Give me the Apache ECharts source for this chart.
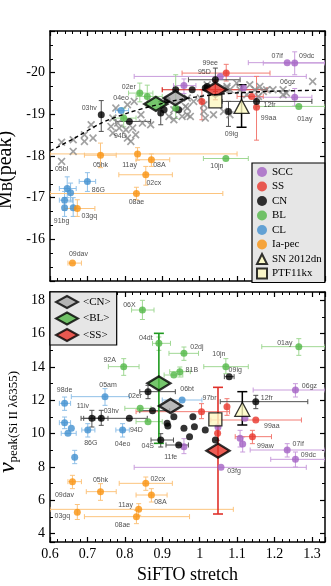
<!DOCTYPE html>
<html>
<head>
<meta charset="utf-8">
<script src="https://cdn.jsdelivr.net/npm/echarts@6/dist/echarts.min.js"></script>
<style>
  html, body { margin: 0; padding: 0; background: #fff; }
  #chart { width: 331px; height: 586px; }
</style>
</head>
<body>
<div id="chart"></div>
<script>
// rows: [stretch, value, xLo, xHi, yLo, yHi, name]
// ---- top panel: M_B(peak) ----
var topSCC = [
  [1.234, -20.24, 1.13, 1.335, null, null, '07if'],
  [1.254, -20.23, 1.17, 1.335, -20.50, -19.95, '09dc'],
  [1.254, -19.41, 1.15, 1.30, -19.62, -19.20, '06gz'],
  [1.055, -19.91, 0.825, 1.285, null, null, ''],
  [0.958, -19.69, 0.93, 0.99, -19.85, -19.50, ''],
  [1.117, -19.63, null, null, null, null, '']
];
var topSS = [
  [1.071, -19.99, 0.953, 1.188, -20.20, -19.80, '99ee'],
  [1.006, -19.31, null, null, -19.59, -18.87, ''],
  [1.152, -19.17, null, null, -19.91, -18.38, '99aa'],
  [1.139, -19.43, 1.10, 1.17, null, null, '']
];
var topCN = [
  [0.737, -18.99, null, null, -19.33, -18.59, '03hv'],
  [0.812, -18.83, 0.776, 0.869, null, null, '94D'],
  [0.896, -19.03, null, null, -19.30, -18.75, ''],
  [0.944, -19.11, null, null, null, null, ''],
  [0.905, -19.11, null, null, null, null, ''],
  [0.913, -19.35, null, null, null, null, ''],
  [0.936, -19.59, null, null, null, null, ''],
  [0.980, -19.59, null, null, null, null, ''],
  [1.020, -19.67, null, null, null, null, ''],
  [1.042, -19.83, 0.97, 1.108, -20.11, -19.55, '95D'],
  [1.015, -19.63, null, null, null, null, ''],
  [1.077, -19.07, null, null, -19.31, -18.71, '09ig'],
  [1.152, -19.31, 1.06, 1.30, null, null, '12fr']
];
var topBL = [
  [0.840, -19.51, 0.81, 0.875, -19.75, -19.30, '02er'],
  [0.860, -19.43, 0.83, 0.90, -19.70, -19.20, ''],
  [0.797, -18.91, 0.77, 0.83, -19.15, -18.70, ''],
  [0.936, -19.15, null, null, -19.95, -18.90, ''],
  [1.070, -17.94, 1.01, 1.13, null, null, '10jn'],
  [1.265, -19.19, 1.15, 1.335, null, null, '01ay']
];
var topCL = [
  [0.790, -19.09, 0.775, 0.81, null, null, '04eo'],
  [0.700, -17.39, 0.678, 0.722, -17.60, -17.15, '86G'],
  [0.646, -17.22, 0.625, 0.67, -17.50, -17.00, ''],
  [0.655, -17.12, null, null, -17.35, -16.90, ''],
  [0.639, -16.94, 0.625, 0.66, -17.15, -16.70, ''],
  [0.639, -16.76, null, null, -17.00, -16.55, '91bg'],
  [0.662, -16.76, null, null, -17.00, -16.55, '']
];
var topPec = [
  [0.735, -18.02, 0.692, 0.777, -18.31, -17.72, '05hk'],
  [0.834, -18.05, 0.60, 1.10, -18.20, -17.90, '11ay'],
  [0.871, -17.91, 0.83, 0.92, -18.05, -17.75, '08A'],
  [0.856, -17.55, 0.784, 0.927, -17.75, -17.30, '02cx'],
  [0.831, -17.10, 0.60, 1.062, -17.25, -16.95, '08ae'],
  [0.673, -16.74, 0.638, 0.72, -16.95, -16.55, '03gq'],
  [0.660, -15.43, 0.648, 0.684, null, null, '09dav']
];
var top12dn = [[1.112, -19.19, null, null, -19.71, -18.69, '']];
var top11kx = [[1.042, -19.31, null, null, null, null, '']];
var topMeanCN = [[0.935, -19.39, null, null, null, null, '']];
var topMeanBL = [[0.883, -19.25, null, null, null, null, '']];
var topMeanSS = [[1.042, -19.59, 0.90, 1.18, -19.80, -19.35, '']];
var topCross = [
  [0.631, -18.33], [0.662, -18.11], [0.710, -18.75], [0.692, -18.51], [0.715, -18.43],
  [0.763, -18.71], [0.768, -18.55], [0.785, -18.67], [0.803, -18.63], [0.821, -18.67],
  [0.829, -18.51], [0.807, -18.43], [0.776, -19.15], [0.768, -18.91], [0.781, -18.79],
  [0.847, -18.79], [0.869, -18.75], [0.843, -18.99], [0.918, -18.95], [0.953, -18.95],
  [0.931, -19.11], [0.825, -19.31], [0.807, -19.23], [0.967, -19.15], [0.662, -18.39],
  [0.631, -17.87, '05bl'], [0.692, -18.35], [0.816, -18.35], [0.967, -18.99], [1.015, -18.91],
  [1.037, -18.99], [1.064, -19.07], [1.081, -18.99], [1.011, -19.23], [0.984, -19.31],
  [1.108, -19.59], [1.126, -19.47], [1.148, -19.59], [1.170, -19.55], [1.196, -19.59],
  [1.223, -19.59], [1.157, -19.43], [1.223, -19.47], [1.302, -19.79], [1.232, -19.51],
  [1.081, -19.59], [1.073, -19.67], [1.020, -19.71], [1.002, -19.39], [0.967, -19.39],
  [1.179, -19.59], [1.161, -19.67], [1.134, -19.71], [1.099, -19.75], [1.073, -19.63],
  [0.962, -19.19], [0.931, -18.87], [0.975, -18.95], [1.011, -19.07]
];
var fitStretch = [0.60, 0.666, 0.737, 0.807, 0.869, 0.95, 1.05, 1.18, 1.335];
var fitMag = [-18.12, -18.43, -18.79, -19.03, -19.19, -19.36, -19.48, -19.55, -19.58];

// ---- bottom panel: v_peak(Si II 6355) ----
var botSCC = [
  [1.256, 12.62, 1.143, 1.335, 12.2, 13.0, '06gz'],
  [1.234, 9.02, 1.135, 1.335, 8.6, 9.4, '07if'],
  [1.256, 8.46, 1.19, 1.335, 8.0, 8.9, '09dc'],
  [1.057, 7.98, 0.825, 1.285, null, null, '03fg'],
  [0.958, 9.22, null, null, 8.8, 9.7, ''],
  [1.121, 10.92, null, null, null, null, ''],
  [1.108, 9.72, null, null, 9.2, 10.2, ''],
  [1.115, 9.38, null, null, 8.9, 9.8, ''],
  [1.049, 10.40, null, null, null, null, '']
];
var botSS = [
  [1.005, 11.32, 0.83, 1.08, 10.9, 11.8, '97br'],
  [1.073, 11.62, null, null, 11.1, 12.1, ''],
  [1.048, 10.02, null, null, 9.6, 10.4, ''],
  [1.150, 10.82, 1.03, 1.272, null, null, '99aa'],
  [1.141, 9.82, 1.095, 1.192, 9.4, 10.2, '99aw']
];
var botCN = [
  [0.712, 10.92, 0.683, 0.735, 10.4, 11.4, '11iv'],
  [0.737, 10.92, 0.72, 0.755, 10.5, 11.4, '03hv'],
  [0.812, 10.92, 0.69, 0.86, null, null, '94D'],
  [0.862, 12.52, 0.84, 0.935, 12.1, 12.9, ''],
  [0.874, 11.38, 0.84, 0.92, null, null, ''],
  [0.896, 9.62, 0.87, 0.93, 9.2, 10.0, '04S'],
  [0.915, 10.46, null, null, null, null, ''],
  [0.931, 11.02, null, null, null, null, ''],
  [0.913, 10.62, null, null, null, null, ''],
  [0.944, 9.32, 0.91, 0.97, null, null, '11fe'],
  [0.958, 10.32, null, null, null, null, ''],
  [0.973, 9.82, null, null, null, null, ''],
  [0.982, 11.02, null, null, null, null, ''],
  [0.986, 10.42, null, null, null, null, ''],
  [1.015, 10.22, null, null, null, null, ''],
  [1.042, 9.62, null, null, null, null, ''],
  [1.079, 13.42, 1.066, 1.092, null, null, '09ig'],
  [1.150, 11.92, 1.055, 1.289, 11.5, 12.3, '12fr']
];
var botBL = [
  [0.847, 17.42, 0.818, 0.878, 16.85, 18.0, '06X'],
  [0.891, 15.42, 0.874, 0.922, 15.0, 15.8, '04dt'],
  [0.958, 14.82, 0.918, 0.997, 14.4, 15.2, '02dj'],
  [0.797, 14.02, 0.756, 0.838, 13.5, 14.5, '92A'],
  [1.070, 14.02, 1.011, 1.130, 13.6, 14.5, '10jn'],
  [1.265, 15.22, 1.166, 1.335, 14.7, 15.7, '01ay'],
  [0.947, 13.72, 0.92, 0.975, 13.4, 14.0, '81B'],
  [0.931, 13.52, 0.905, 0.955, null, null, ''],
  [0.841, 11.52, 0.80, 0.87, null, null, '02er'],
  [0.862, 10.72, 0.83, 0.90, null, null, '']
];
var botCL = [
  [0.747, 12.22, 0.657, 0.812, 11.7, 12.7, '05am'],
  [0.953, 12.02, 0.90, 1.006, null, null, '06bt'],
  [0.794, 10.22, 0.776, 0.812, 9.8, 10.6, '04eo'],
  [0.701, 10.22, 0.685, 0.72, 9.8, 10.6, '86G'],
  [0.639, 11.82, 0.625, 0.655, 11.4, 12.2, '98de'],
  [0.639, 10.66, 0.625, 0.655, 10.3, 11.0, ''],
  [0.657, 10.32, null, null, null, null, ''],
  [0.648, 10.02, 0.63, 0.67, null, null, ''],
  [0.666, 8.58, null, null, 8.2, 9.0, '']
];
var botPec = [
  [0.660, 7.12, 0.648, 0.684, 6.7, 7.5, '09dav'],
  [0.735, 6.52, 0.697, 0.777, 6.0, 7.0, '05hk'],
  [0.856, 7.02, 0.785, 0.927, 6.6, 7.4, '02cx'],
  [0.871, 6.32, 0.83, 0.913, 5.9, 6.7, '08A'],
  [0.837, 5.46, 0.60, 1.09, 5.1, 5.8, '11ay'],
  [0.831, 5.02, 0.692, 0.973, 4.6, 5.4, '08ae'],
  [0.673, 5.28, null, null, 4.85, 5.75, '03gq']
];
var bot12dn = [[1.114, 11.46, null, null, 10.52, 12.52, '']];
var bot11kx = [[1.042, 10.86, null, null, null, null, '']];
var botMeanCN = [[0.922, 11.66, null, null, null, null, '']];
var botMeanBL = [[0.891, 13.02, null, null, 9.42, 16.02, '']];
var botMeanSS = [[1.049, 8.98, null, null, 5.18, 12.78, '']];

var xTicks = [0.6, 0.7, 0.8, 0.9, 1, 1.1, 1.2, 1.3];
var topTicks = [-20, -19, -18, -17, -16];
var botTicks = [4, 6, 8, 10, 12, 14, 16, 18];

// label placement (pixel offsets from the point)
var topLabelPos = {
  '99ee': [-16, -10], '95D': [-11, -8], '07if': [-10, -7], '09dc': [12, -7], '06gz': [-7, -15],
  '12fr': [13, 4], '99aa': [12, 11], '01ay': [6, 13], '09ig': [3, 23], '10jn': [-9, 8],
  '03hv': [-12, -7], '04eo': [0, -13], '02er': [-11, -6], '94D': [-9, 15], '05bl': [0, 8],
  '05hk': [0, 10], '11ay': [-8, 11], '08A': [8, 5], '02cx': [8, 8], '08ae': [0, 9],
  '86G': [11, 9], '03gq': [12, 8], '91bg': [-3, 13], '09dav': [6, -9]
};
var botLabelPos = {
  '06X': [-13, -5], '04dt': [-13, -5], '02dj': [13, -6], '92A': [-14, -7], '10jn': [-7, -13],
  '01ay': [-14, -4], '81B': [12, -2], '09ig': [6, -7], '05am': [3, -12], '98de': [0, -13],
  '06bt': [5, -11], '97br': [8, -14], '02er': [-5, -12], '12fr': [11, -4], '11iv': [-9, -12],
  '03hv': [10, -7], '94D': [7, 12], '86G': [3, 13], '04eo': [0, 14], '99aa': [16, 6],
  '04S': [-13, 6], '11fe': [-8, 12], '99aw': [13, 9], '07if': [11, -6], '09dc': [13, -4],
  '06gz': [14, -4], '03fg': [13, 4], '09dav': [-8, 13], '05hk': [0, -12], '02cx': [12, -4],
  '08A': [9, 7], '11ay': [-13, -4], '03gq': [-15, 4], '08ae': [-14, 8]
};

var colors = {
  SCC: '#a463c4', SS: '#e8342b', CN: '#000000', BL: '#52b847', CL: '#4190cf', pec: '#f9920f'
};
var errColors = {
  SCC: '#c99ddc', SS: '#f27c74', CN: '#505050', BL: '#a0d894', CL: '#90c0e8', pec: '#fcc47e'
};
var serif = 'Liberation Serif, DejaVu Serif, serif';
var crossPath = 'path://M1.5,0 L5,3.5 L8.5,0 L10,1.5 L6.5,5 L10,8.5 L8.5,10 L5,6.5 L1.5,10 L0,8.5 L3.5,5 L0,1.5 Z';

function pointData(rows, pos) {
  return rows.map(function (r) {
    var item = { value: [r[0], r[1]], name: r[6] || '' };
    var off = r[6] ? pos[r[6]] : null;
    if (off) {
      item.label = {
        show: true, position: 'inside', offset: off, formatter: r[6],
        color: '#1a1a1a', fontSize: 7, fontFamily: 'Liberation Sans, Arial, sans-serif',
        textBorderWidth: 0
      };
    }
    return item;
  });
}

function errorSeries(rows, color, panel, width) {
  return {
    type: 'custom',
    xAxisIndex: panel * 2, yAxisIndex: panel * 2,
    silent: true,
    clip: true,
    data: rows.map(function (r) {
      return r.slice(0, 6).map(function (v) { return v == null ? '-' : v; });
    }),
    renderItem: function (params, api) {
      var x = api.value(0), y = api.value(1);
      var x1 = api.value(2), x2 = api.value(3), y1 = api.value(4), y2 = api.value(5);
      var style = { stroke: color, lineWidth: width || 1 };
      var cap = 2.5;
      var kids = [];
      if (!isNaN(x1) && !isNaN(x2)) {
        var a = api.coord([x1, y]), b = api.coord([x2, y]);
        kids.push({ type: 'line', shape: { x1: a[0], y1: a[1], x2: b[0], y2: b[1] }, style: style });
        kids.push({ type: 'line', shape: { x1: a[0], y1: a[1] - cap, x2: a[0], y2: a[1] + cap }, style: style });
        kids.push({ type: 'line', shape: { x1: b[0], y1: b[1] - cap, x2: b[0], y2: b[1] + cap }, style: style });
      }
      if (!isNaN(y1) && !isNaN(y2)) {
        var c = api.coord([x, y1]), d = api.coord([x, y2]);
        var cw = width > 1.2 ? 5 : cap;
        kids.push({ type: 'line', shape: { x1: c[0], y1: c[1], x2: d[0], y2: d[1] }, style: style });
        kids.push({ type: 'line', shape: { x1: c[0] - cw, y1: c[1], x2: c[0] + cw, y2: c[1] }, style: style });
        kids.push({ type: 'line', shape: { x1: d[0] - cw, y1: d[1], x2: d[0] + cw, y2: d[1] }, style: style });
      }
      return { type: 'group', children: kids };
    }
  };
}

function pointSeries(name, rows, pos, panel, style) {
  return {
    name: name,
    type: 'scatter',
    xAxisIndex: panel * 2, yAxisIndex: panel * 2,
    symbol: style.symbol || 'circle',
    symbolSize: style.size || 7,
    itemStyle: style.itemStyle,
    data: pointData(rows, pos)
  };
}

function xAxisFor(grid, pos, labels) {
  return {
    type: 'value', gridIndex: grid, position: pos,
    min: 0.6, max: 1.335, interval: 0.1,
    axisLine: { show: true, onZero: false, lineStyle: { color: '#000', width: 1.5 } },
    axisTick: { show: true, inside: true, length: 5, lineStyle: { color: '#000', width: 1.2 } },
    minorTick: { show: true, splitNumber: 5, length: 3, lineStyle: { color: '#000', width: 1 } },
    splitLine: { show: false },
    axisLabel: {
      show: labels, color: '#000', fontFamily: serif, fontSize: 14, margin: 5,
      formatter: function (v) {
        var hit = xTicks.filter(function (t) { return Math.abs(t - v) < 1e-6; });
        return hit.length ? String(hit[0]) : '';
      }
    }
  };
}

function yAxisFor(grid, pos, labels, conf) {
  return {
    type: 'value', gridIndex: grid, position: pos,
    min: conf.min, max: conf.max, interval: conf.interval, splitNumber: conf.splitNumber,
    inverse: !!conf.inverse,
    axisLine: { show: true, onZero: false, lineStyle: { color: '#000', width: 1.5 } },
    axisTick: { show: true, inside: true, length: 5, lineStyle: { color: '#000', width: 1.2 } },
    minorTick: { show: true, splitNumber: conf.minor, length: 3, lineStyle: { color: '#000', width: 1 } },
    splitLine: { show: false },
    axisLabel: {
      show: labels, color: '#000', fontFamily: serif, fontSize: 14, margin: 5,
      formatter: function (v) {
        var hit = conf.ticks.filter(function (t) { return Math.abs(t - v) < 1e-6; });
        return hit.length ? String(hit[0]) : '';
      }
    }
  };
}

var topConf = { min: -21, max: -15, interval: 1, inverse: true, minor: 3, ticks: topTicks };
var botConf = { min: 3.5, max: 18.5, splitNumber: 7, minor: 2, ticks: botTicks };

var yTop = yAxisFor(0, 'left', true, topConf);
yTop.name = '{m|M}{s|B}{m|(peak)}';
yTop.nameLocation = 'middle';
yTop.nameGap = 27;
yTop.nameTextStyle = {
  padding: [0, 28, 0, 0],
  rich: {
    m: { fontFamily: serif, fontSize: 20, color: '#000', lineHeight: 22, verticalAlign: 'bottom' },
    s: { fontFamily: serif, fontSize: 14, color: '#000', lineHeight: 8, verticalAlign: 'bottom' }
  }
};
var yBot = yAxisFor(1, 'left', true, botConf);
yBot.name = '{v|\u03bd}{s|peak}{n|(Si II \u03bb6355)}';
yBot.nameLocation = 'middle';
yBot.nameGap = 28;
yBot.nameTextStyle = {
  padding: [0, 10, 0, 0],
  rich: {
    v: { fontFamily: serif, fontStyle: 'italic', fontSize: 24, color: '#000', lineHeight: 22, verticalAlign: 'bottom' },
    s: { fontFamily: serif, fontSize: 13, color: '#000', lineHeight: 8, verticalAlign: 'bottom' },
    n: { fontFamily: serif, fontSize: 13, color: '#000', lineHeight: 8, verticalAlign: 'bottom' }
  }
};
var xBot = xAxisFor(1, 'bottom', true);
xBot.name = 'SiFTO stretch';
xBot.nameLocation = 'middle';
xBot.nameGap = 24;
xBot.nameTextStyle = { fontFamily: serif, fontSize: 18, color: '#000' };

var classes = [
  ['SCC', 'SCC', topSCC, botSCC],
  ['SS', 'SS', topSS, botSS],
  ['CN', 'CN', topCN, botCN],
  ['BL', 'BL', topBL, botBL],
  ['CL', 'CL', topCL, botCL],
  ['Ia-pec', 'pec', topPec, botPec]
];

var series = [];
classes.forEach(function (c) {
  series.push(errorSeries(c[2], errColors[c[1]], 0, 1));
  series.push(errorSeries(c[3], errColors[c[1]], 1, 1));
});
series.push(errorSeries(top12dn, '#000', 0, 1.5));
series.push(errorSeries(bot12dn, '#000', 1, 1.5));

series.push({
  type: 'scatter', xAxisIndex: 0, yAxisIndex: 0,
  symbol: crossPath, symbolSize: 8,
  itemStyle: { color: '#8a8a8a' },
  data: topCross.map(function (r) {
    var item = { value: [r[0], r[1]] };
    if (r[2]) {
      item.label = {
        show: true, position: 'inside', offset: topLabelPos[r[2]], formatter: r[2],
        color: '#1a1a1a', fontSize: 7, fontFamily: 'Liberation Sans, Arial, sans-serif', textBorderWidth: 0
      };
    }
    return item;
  })
});
series.push({
  type: 'line', xAxisIndex: 0, yAxisIndex: 0,
  smooth: 0.3, symbol: 'none', silent: true,
  lineStyle: { color: '#000', width: 1.4, type: [4, 3] },
  data: fitStretch.map(function (s, i) { return [s, fitMag[i]]; })
});

classes.forEach(function (c) {
  series.push(pointSeries(c[0], c[2], topLabelPos, 0, { itemStyle: { color: colors[c[1]] } }));
  series.push(pointSeries(c[0], c[3], botLabelPos, 1, { itemStyle: { color: colors[c[1]] } }));
});

series.push(errorSeries(topMeanSS, '#d8261e', 0, 1.2));
series.push(errorSeries(botMeanBL, '#1f9a1f', 1, 1.6));
series.push(errorSeries(botMeanSS, '#e0302a', 1, 1.6));

var means = [
  ['<CN>', '#a8a8a8', topMeanCN, botMeanCN],
  ['<BL>', '#52b847', topMeanBL, botMeanBL],
  ['<SS>', '#e8342b', topMeanSS, botMeanSS]
];
means.forEach(function (m) {
  [0, 1].forEach(function (p) {
    series.push(pointSeries(m[0], p ? m[3] : m[2], {}, p, {
      symbol: 'diamond', size: [23, 14],
      itemStyle: { color: m[1], borderColor: '#000', borderWidth: 2.5 }
    }));
  });
});

[0, 1].forEach(function (p) {
  series.push(pointSeries('SN 2012dn', p ? bot12dn : top12dn, {}, p, {
    symbol: 'triangle', size: [15, 14],
    itemStyle: { color: '#fffcc2', borderColor: '#000', borderWidth: 1.3 }
  }));
});
[0, 1].forEach(function (p) {
  series.push(pointSeries('PTF11kx', p ? bot11kx : top11kx, {}, p, {
    symbol: 'rect', size: 13,
    itemStyle: { color: '#fdf7c0', borderColor: '#000', borderWidth: 1.3 }
  }));
});

var option = {
  animation: false,
  backgroundColor: '#fff',
  legend: [
    {
      orient: 'vertical', left: 252, top: 163,
      data: [
        { name: 'SCC', icon: 'circle' }, { name: 'SS', icon: 'circle' },
        { name: 'CN', icon: 'circle' }, { name: 'BL', icon: 'circle' },
        { name: 'CL', icon: 'circle' }, { name: 'Ia-pec', icon: 'circle' },
        { name: 'SN 2012dn', icon: 'triangle' }, { name: 'PTF11kx', icon: 'rect' }
      ],
      itemWidth: 10, itemHeight: 10, itemGap: 2.5, itemTextGap: 4,
      padding: [3, 3, 3, 4],
      backgroundColor: '#e6e6e6', borderColor: '#000', borderWidth: 1.2, borderRadius: 0,
      textStyle: { fontFamily: serif, fontSize: 11, lineHeight: 12, color: '#000' },
      selectedMode: false
    },
    {
      orient: 'vertical', left: 50, top: 292,
      data: ['<CN>', '<BL>', '<SS>'],
      itemWidth: 22, itemHeight: 12, itemGap: 2.5, itemTextGap: 6,
      padding: [3, 6, 3, 5],
      backgroundColor: '#e6e6e6', borderColor: '#000', borderWidth: 1.2, borderRadius: 0,
      textStyle: { fontFamily: serif, fontSize: 11, lineHeight: 12, color: '#000' },
      selectedMode: false
    }
  ],
  grid: [
    { left: 50, top: 31, width: 275, height: 250, outerBoundsMode: 'none', containLabel: false },
    { left: 50, top: 292, width: 275, height: 250, outerBoundsMode: 'none', containLabel: false }
  ],
  xAxis: [
    xAxisFor(0, 'bottom', false),
    xAxisFor(0, 'top', false),
    xBot,
    xAxisFor(1, 'top', false)
  ],
  yAxis: [
    yTop,
    yAxisFor(0, 'right', false, topConf),
    yBot,
    yAxisFor(1, 'right', false, botConf)
  ],
  series: series
};

var chart = echarts.init(document.getElementById('chart'));
chart.setOption(option);
</script>
</body>
</html>
